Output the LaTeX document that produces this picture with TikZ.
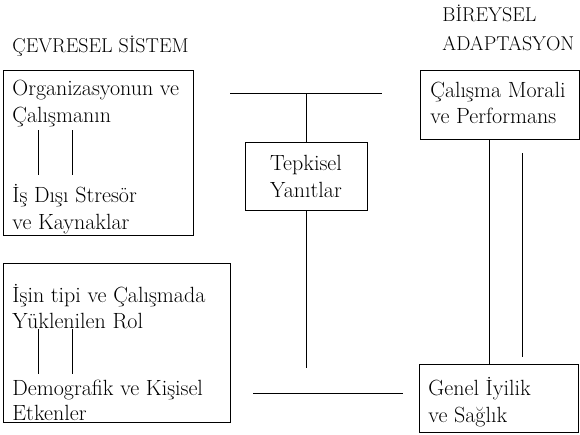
\documentclass[tikz,border=0pt]{standalone}
\begin{document}
\begin{tikzpicture}[x=1pt,y=-1pt,line width=0.85pt,
    box/.style={draw,inner sep=0pt},
    txt/.style={anchor=base west,inner sep=0pt,font=\fontsize{22}{27}\selectfont},
    head/.style={anchor=base west,inner sep=0pt,font=\fontsize{20}{24}\selectfont}]
    \useasboundingbox (0,0) rectangle (580,434);
    % headings
    \node[head] (H0) at (12,52) {ÇEVRESEL SİSTEM};
    \node[head] (H1) at (442,21) {BİREYSEL};
    \node[head] (H2) at (442,50) {ADAPTASYON};

    % boxes
    \node[box,minimum width=190pt,minimum height=165pt] (Org) at (98,152.5) {};
    \node[box,minimum width=227pt,minimum height=159pt] (Isin) at (116.5,342.5) {};
    \node[box,minimum width=122pt,minimum height=68pt] (Tep) at (306,176) {};
    \node[box,minimum width=159pt,minimum height=69pt] (Mor) at (499.5,104.5) {};
    \node[box,minimum width=159pt,minimum height=68pt] (Gen) at (498.5,398) {};

    % texts
    \node[txt] (Org0) at (12,95) {Organizasyonun ve};
    \node[txt] (Org1) at (12,122) {Çalışmanın};
    \node[txt] (Org2) at (12,202) {İş Dışı Stresör};
    \node[txt] (Org3) at (12,229) {ve Kaynaklar};
    \node[txt] (Isin0) at (12,302) {İşin tipi ve Çalışmada};
    \node[txt] (Isin1) at (12,328) {Yüklenilen Rol};
    \node[txt] (Isin2) at (12,395) {Demografik ve Kişisel};
    \node[txt] (Isin3) at (12,420) {Etkenler};
    \node[txt,anchor=base] (Tep0) at (306,170) {Tepkisel};
    \node[txt,anchor=base] (Tep1) at (306,197) {Yanıtlar};
    \node[txt] (Mor0) at (430,97) {Çalışma Morali};
    \node[txt] (Mor1) at (430,123) {ve Performans};
    \node[txt] (Gen0) at (428,395) {Genel İyilik};
    \node[txt] (Gen1) at (428,422) {ve Sağlık};

    % line ends
    \coordinate (T0) at (230,93);
    \coordinate (T1) at (382,93);
    \coordinate (Tm) at (306,93);
    \coordinate (Tb) at (306,368);
    \coordinate (B0) at (253,393);
    \coordinate (B1) at (403,393);
    \coordinate (Ra) at (489,139);
    \coordinate (Rb) at (489,364);
    \coordinate (Sa) at (522,153);
    \coordinate (Sb) at (522,357);
    \coordinate (Oa0) at (38,130);
    \coordinate (Ob0) at (38,175);
    \coordinate (Oa1) at (72,130);
    \coordinate (Ob1) at (72,175);
    \coordinate (Ia0) at (38,329);
    \coordinate (Ib0) at (38,374);
    \coordinate (Ia1) at (72,329);
    \coordinate (Ib1) at (72,374);

    \draw
    (T0) edge (T1)
    (Tm) edge (Tep.north)
    (Tep.south) edge (Tb)
    (B0) edge (B1)
    (Ra) edge (Rb)
    (Sa) edge (Sb)
    (Oa0) edge (Ob0)
    (Oa1) edge (Ob1)
    (Ia0) edge (Ib0)
    (Ia1) edge (Ib1);
  \end{tikzpicture}
\end{document}
